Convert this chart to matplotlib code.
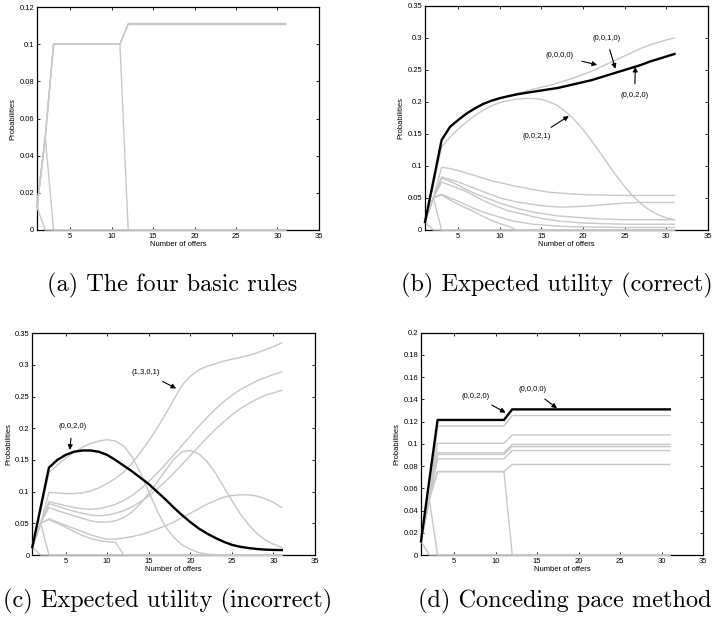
import numpy as np
import matplotlib
matplotlib.use('Agg')
import matplotlib.pyplot as plt
from matplotlib.ticker import FormatStrFormatter


offers = np.arange(1, 32)

# (a) the four basic rules
a_lines = [
    [0.0123, 0.05] + [0.1] * 9 + [0.1111] * 20,
    [0.0123, 0.05] + [0.1] * 9 + [0.1106] * 20,
    [0.0123, 0.05] + [0.1] * 9 + [0.0] * 20,
    [0.0123, 0.05] + [0.0] * 29,
    [0.0123] + [0.0] * 30,
]

# (b) expected utility (correct)
b_best = [0.0123, 0.076, 0.1406, 0.161, 0.172, 0.182, 0.19, 0.197, 0.202, 0.206,
          0.209, 0.2118, 0.214, 0.216, 0.218, 0.22, 0.222, 0.225, 0.228, 0.231,
          0.234, 0.238, 0.242, 0.246, 0.25, 0.254, 0.258, 0.263, 0.267, 0.271, 0.275]
b_lines = [
    [0.0123, 0.076, 0.1406, 0.161, 0.172, 0.182, 0.19, 0.197, 0.202, 0.206,
     0.2095, 0.213, 0.2165, 0.22, 0.223, 0.226, 0.23, 0.234, 0.238, 0.243,
     0.248, 0.254, 0.26, 0.266, 0.272, 0.278, 0.284, 0.289, 0.293, 0.297, 0.3],
    [0.0123, 0.07, 0.13, 0.145, 0.158, 0.169, 0.179, 0.187, 0.194, 0.199,
     0.202, 0.2045, 0.2055, 0.2055, 0.204, 0.2, 0.194, 0.184, 0.172, 0.157,
     0.14, 0.122, 0.103, 0.085, 0.068, 0.053, 0.041, 0.031, 0.024, 0.019, 0.016],
    [0.0123, 0.05, 0.098, 0.096, 0.093, 0.089, 0.085, 0.081, 0.077, 0.074,
     0.071, 0.068, 0.066, 0.063, 0.061, 0.059, 0.058, 0.057, 0.056, 0.0555,
     0.055, 0.0548, 0.0545, 0.0542, 0.054, 0.054, 0.054, 0.054, 0.054, 0.054, 0.054],
    [0.0123, 0.05, 0.083, 0.079, 0.075, 0.07, 0.065, 0.06, 0.055, 0.05,
     0.047, 0.044, 0.042, 0.04, 0.038, 0.037, 0.036, 0.036, 0.0365, 0.037,
     0.038, 0.039, 0.04, 0.041, 0.042, 0.0425, 0.043, 0.043, 0.043, 0.043, 0.043],
    [0.0123, 0.05, 0.081, 0.076, 0.07, 0.063, 0.057, 0.052, 0.047, 0.042,
     0.038, 0.034, 0.031, 0.028, 0.026, 0.024, 0.022, 0.021, 0.02, 0.019,
     0.018, 0.0175, 0.017, 0.0165, 0.016, 0.016, 0.016, 0.016, 0.016, 0.016, 0.016],
    [0.0123, 0.05, 0.075, 0.07, 0.065, 0.06, 0.053, 0.046, 0.04, 0.035,
     0.03, 0.027, 0.024, 0.021, 0.018, 0.016, 0.014, 0.013, 0.012, 0.011,
     0.0105, 0.01, 0.0097, 0.0094, 0.009, 0.009, 0.009, 0.009, 0.009, 0.009, 0.009],
    [0.0123, 0.05, 0.056, 0.05, 0.045, 0.039, 0.033, 0.028, 0.024, 0.02,
     0.016, 0.013, 0.011, 0.009, 0.008, 0.007, 0.006, 0.0055, 0.005, 0.005,
     0.0045, 0.0045, 0.0045, 0.004, 0.004, 0.004, 0.004, 0.004, 0.004, 0.004, 0.004],
    [0.0123, 0.05, 0.055, 0.047, 0.04, 0.034, 0.028, 0.021, 0.015, 0.01,
     0.006, 0.0] + [0.0] * 19,
    [0.0123, 0.05] + [0.0] * 29,
    [0.0123] + [0.0] * 30,
]

# (c) expected utility (incorrect)
c_best = [0.0123, 0.075, 0.138, 0.15, 0.158, 0.163, 0.165, 0.165, 0.163, 0.158,
          0.15, 0.141, 0.132, 0.122, 0.112, 0.1, 0.088, 0.075, 0.063, 0.052,
          0.042, 0.034, 0.027, 0.021, 0.016, 0.013, 0.011, 0.0095, 0.0085, 0.008, 0.0078]
c_lines = [
    [0.0123, 0.05, 0.099, 0.098, 0.097, 0.097, 0.098, 0.101, 0.106, 0.113,
     0.121, 0.131, 0.145, 0.162, 0.18, 0.2, 0.222, 0.245, 0.268, 0.282,
     0.292, 0.298, 0.302, 0.306, 0.309, 0.312, 0.315, 0.319, 0.324, 0.329, 0.335],
    [0.0123, 0.05, 0.084, 0.081, 0.078, 0.075, 0.073, 0.072, 0.073, 0.076,
     0.08, 0.086, 0.094, 0.104, 0.116, 0.129, 0.143, 0.158, 0.173, 0.188,
     0.203, 0.217, 0.23, 0.242, 0.252, 0.261, 0.268, 0.275, 0.28, 0.285, 0.289],
    [0.0123, 0.05, 0.081, 0.077, 0.073, 0.069, 0.066, 0.063, 0.062, 0.063,
     0.066, 0.07, 0.076, 0.084, 0.093, 0.104, 0.116, 0.129, 0.143, 0.157,
     0.171, 0.185, 0.198, 0.21, 0.221, 0.231, 0.239, 0.246, 0.252, 0.256, 0.26],
    [0.0123, 0.07, 0.13, 0.142, 0.153, 0.162, 0.17, 0.176, 0.18, 0.182,
     0.18, 0.172, 0.155, 0.13, 0.1, 0.07, 0.045, 0.028, 0.016, 0.009,
     0.004, 0.0015, 0.0005] + [0.0] * 8,
    [0.0123, 0.05, 0.075, 0.07, 0.066, 0.062, 0.058, 0.054, 0.052, 0.052,
     0.054, 0.059, 0.068, 0.081, 0.097, 0.115, 0.133, 0.151, 0.163, 0.165,
     0.16, 0.148, 0.13, 0.108, 0.086, 0.065, 0.048, 0.034, 0.024, 0.017, 0.012],
    [0.0123, 0.05, 0.057, 0.052, 0.047, 0.042, 0.037, 0.032, 0.028, 0.025,
     0.025, 0.027, 0.029, 0.032, 0.036, 0.041, 0.046, 0.052, 0.059, 0.066,
     0.073, 0.08, 0.086, 0.091, 0.094, 0.095, 0.095, 0.093, 0.089, 0.083, 0.075],
    [0.0123, 0.05, 0.056, 0.05, 0.044, 0.037, 0.031, 0.026, 0.023, 0.021,
     0.02, 0.0] + [0.0] * 19,
    [0.0123, 0.05] + [0.0] * 29,
    [0.0123] + [0.0] * 30,
]

# (d) conceding pace method
d_best = [0.0123, 0.067] + [0.1215] * 9 + [0.131] * 20
d_lines = [
    [0.0123, 0.05] + [0.116] * 9 + [0.1255] * 20,
    [0.0123, 0.05] + [0.1005] * 9 + [0.108] * 20,
    [0.0123, 0.05] + [0.092] * 9 + [0.0995] * 20,
    [0.0123, 0.05] + [0.0905] * 9 + [0.0975] * 20,
    [0.0123, 0.05] + [0.0865] * 9 + [0.094] * 20,
    [0.0123, 0.05] + [0.075] * 9 + [0.0815] * 20,
    [0.0123, 0.05] + [0.075] * 9 + [0.0] * 20,
    [0.0123, 0.05] + [0.0] * 29,
    [0.0123] + [0.0] * 30,
]

gray = '#c8c8c8'
tickfont = 'Liberation Sans'

fig = plt.figure(figsize=(7.15, 6.25), dpi=100)


def setup(ax, ymax, ystep):
    ax.set_xlim(1, 35)
    ax.set_ylim(0, ymax)
    ax.set_xticks([5, 10, 15, 20, 25, 30, 35])
    ax.set_yticks(np.arange(0, ymax + 1e-9, ystep))
    ax.yaxis.set_major_formatter(FormatStrFormatter('%g'))
    ax.tick_params(direction='in', top=True, right=True, length=2.5, width=0.6,
                   labelsize=5.5, pad=2)
    for lab in ax.get_xticklabels() + ax.get_yticklabels():
        lab.set_family(tickfont)
    for s in ax.spines.values():
        s.set_linewidth(0.9)
    ax.set_xlabel('Number of offers', fontsize=5.5, family=tickfont, labelpad=1)
    ax.set_ylabel('Probabilities', fontsize=5.5, family=tickfont, labelpad=2)


def draw(ax, lines, best=None):
    for l in lines:
        ax.plot(offers, l, color=gray, lw=1.0, zorder=3, clip_on=False)
    if best is not None:
        ax.plot(offers, best, color='black', lw=1.7, zorder=4, clip_on=False)


def note(ax, txt, tip, pos):
    ax.annotate(txt, xy=tip, xytext=pos, fontsize=5.5, family=tickfont,
                ha='center', va='center', zorder=5,
                arrowprops=dict(arrowstyle='-|>', color='black', lw=0.8,
                                mutation_scale=7, shrinkA=4, shrinkB=0))


# (a)
ax1 = fig.add_axes([0.0517, 0.632, 0.3944, 0.3568])
draw(ax1, a_lines)
setup(ax1, 0.12, 0.02)

# (b)
ax2 = fig.add_axes([0.5944, 0.632, 0.3954, 0.3584])
draw(ax2, b_lines, b_best)
setup(ax2, 0.35, 0.05)
note(ax2, '(0,0,0,0)', (21.7, 0.258), (17.2, 0.272))
note(ax2, '(0,0,1,0)', (23.9, 0.252), (22.8, 0.3))
note(ax2, '(0,0,2,0)', (26.3, 0.255), (26.2, 0.21))
note(ax2, '(0,0,2,1)', (18.3, 0.178), (14.4, 0.146))

# (c)
ax3 = fig.add_axes([0.0452, 0.112, 0.3954, 0.3547])
draw(ax3, c_lines, c_best)
setup(ax3, 0.35, 0.05)
note(ax3, '(1,3,0,1)', (18.3, 0.263), (14.6, 0.288))
note(ax3, '(0,0,2,0)', (5.5, 0.166), (5.8, 0.203))

# (d)
ax4 = fig.add_axes([0.5888, 0.112, 0.3944, 0.3557])
draw(ax4, d_lines, d_best)
setup(ax4, 0.2, 0.02)
note(ax4, '(0,0,2,0)', (11.2, 0.128), (7.6, 0.143))
note(ax4, '(0,0,0,0)', (17.4, 0.132), (14.4, 0.149))

cap = dict(family='cmr10', fontsize=17.5, ha='center', va='center')
fig.text(172 / 715, 1 - 285 / 625, '(a) The four basic rules', **cap)
fig.text(557 / 715, 1 - 285 / 625, '(b) Expected utility (correct)', **cap)
fig.text(168 / 715, 1 - 601 / 625, '(c) Expected utility (incorrect)', **cap)
fig.text(565 / 715, 1 - 601 / 625, '(d) Conceding pace method', **cap)

fig.savefig('out.png', dpi=100)
